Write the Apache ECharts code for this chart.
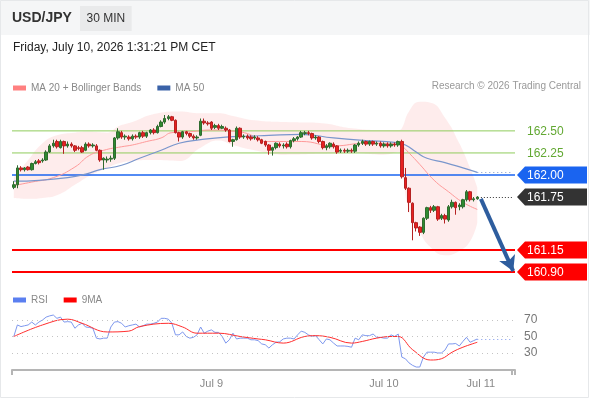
<!DOCTYPE html>
<html>
<head>
<meta charset="utf-8">
<script src="https://cdn.jsdelivr.net/npm/echarts@6/dist/echarts.min.js"></script>
<style>
html, body { margin: 0; padding: 0; background: #fff; }
#chart { width: 590px; height: 400px; }
</style>
</head>
<body>
<div id="chart"></div>
<script>
// 30 min candles, [open, close, low, high]
var candles = [
	[161.86, 161.89, 161.84, 161.93], [161.89, 162.08, 161.85, 162.11], [162.08, 162.06, 162.04, 162.10], [162.06, 162.08, 162.04, 162.09],
	[162.09, 162.06, 162.05, 162.10], [162.06, 162.13, 162.05, 162.14], [162.13, 162.15, 162.12, 162.17], [162.16, 162.14, 162.12, 162.18],
	[162.16, 162.17, 162.14, 162.19], [162.17, 162.26, 162.16, 162.28], [162.26, 162.33, 162.25, 162.35], [162.33, 162.36, 162.31, 162.40],
	[162.38, 162.32, 162.30, 162.40], [162.31, 162.38, 162.30, 162.40], [162.38, 162.33, 162.24, 162.39], [162.33, 162.35, 162.31, 162.38],
	[162.35, 162.33, 162.31, 162.37], [162.33, 162.28, 162.26, 162.34], [162.31, 162.30, 162.28, 162.33], [162.31, 162.26, 162.25, 162.33],
	[162.28, 162.35, 162.27, 162.37], [162.35, 162.33, 162.31, 162.37], [162.33, 162.34, 162.31, 162.36], [162.33, 162.28, 162.27, 162.35],
	[162.28, 162.17, 162.15, 162.29], [162.17, 162.19, 162.06, 162.20], [162.17, 162.18, 162.14, 162.21], [162.18, 162.19, 162.15, 162.22],
	[162.19, 162.42, 162.17, 162.43], [162.42, 162.49, 162.40, 162.53], [162.48, 162.43, 162.41, 162.50], [162.43, 162.44, 162.40, 162.46],
	[162.43, 162.41, 162.39, 162.45], [162.41, 162.44, 162.39, 162.46], [162.44, 162.43, 162.41, 162.46], [162.43, 162.48, 162.41, 162.49],
	[162.48, 162.44, 162.42, 162.50], [162.44, 162.48, 162.42, 162.49], [162.48, 162.51, 162.46, 162.52], [162.51, 162.48, 162.46, 162.53],
	[162.48, 162.55, 162.47, 162.57], [162.55, 162.60, 162.54, 162.62], [162.60, 162.64, 162.58, 162.68], [162.64, 162.66, 162.62, 162.68],
	[162.66, 162.62, 162.61, 162.67], [162.62, 162.48, 162.47, 162.63], [162.48, 162.43, 162.38, 162.49], [162.43, 162.49, 162.41, 162.50],
	[162.49, 162.47, 162.45, 162.50], [162.47, 162.44, 162.42, 162.48], [162.44, 162.42, 162.40, 162.46], [162.42, 162.43, 162.40, 162.45],
	[162.45, 162.61, 162.44, 162.64], [162.61, 162.59, 162.57, 162.64], [162.59, 162.58, 162.56, 162.61], [162.60, 162.53, 162.51, 162.61],
	[162.54, 162.56, 162.52, 162.58], [162.56, 162.53, 162.51, 162.58], [162.53, 162.55, 162.52, 162.57], [162.53, 162.51, 162.49, 162.55],
	[162.51, 162.38, 162.37, 162.52], [162.38, 162.40, 162.32, 162.41], [162.40, 162.53, 162.39, 162.55], [162.53, 162.43, 162.41, 162.54],
	[162.43, 162.44, 162.41, 162.46], [162.44, 162.42, 162.40, 162.46], [162.43, 162.41, 162.39, 162.45], [162.42, 162.43, 162.40, 162.45],
	[162.42, 162.40, 162.38, 162.44], [162.40, 162.36, 162.35, 162.41], [162.38, 162.34, 162.32, 162.39], [162.34, 162.28, 162.23, 162.35],
	[162.28, 162.31, 162.22, 162.32], [162.31, 162.36, 162.29, 162.37], [162.35, 162.33, 162.31, 162.37], [162.33, 162.34, 162.30, 162.36],
	[162.35, 162.32, 162.30, 162.37], [162.32, 162.39, 162.30, 162.40], [162.39, 162.41, 162.37, 162.43], [162.41, 162.43, 162.39, 162.44],
	[162.43, 162.48, 162.42, 162.50], [162.47, 162.48, 162.45, 162.50], [162.48, 162.47, 162.45, 162.50], [162.47, 162.42, 162.40, 162.48],
	[162.42, 162.43, 162.40, 162.45], [162.43, 162.38, 162.36, 162.44], [162.38, 162.31, 162.29, 162.39], [162.31, 162.33, 162.28, 162.35],
	[162.32, 162.36, 162.30, 162.37], [162.35, 162.32, 162.30, 162.37], [162.33, 162.26, 162.24, 162.34], [162.27, 162.28, 162.25, 162.30],
	[162.28, 162.27, 162.25, 162.30], [162.27, 162.28, 162.25, 162.30], [162.28, 162.27, 162.25, 162.30], [162.27, 162.34, 162.25, 162.35],
	[162.34, 162.36, 162.32, 162.38], [162.36, 162.38, 162.34, 162.40], [162.38, 162.35, 162.33, 162.39], [162.35, 162.38, 162.33, 162.39],
	[162.38, 162.35, 162.33, 162.39], [162.35, 162.36, 162.33, 162.38], [162.36, 162.33, 162.31, 162.38], [162.33, 162.35, 162.31, 162.37],
	[162.35, 162.33, 162.31, 162.37], [162.33, 162.35, 162.31, 162.37], [162.35, 162.34, 162.32, 162.37], [162.34, 162.38, 162.32, 162.39],
	[162.38, 161.98, 161.96, 162.40], [161.97, 161.85, 161.83, 162.08], [161.85, 161.69, 161.58, 161.86], [161.68, 161.46, 161.26, 161.69],
	[161.46, 161.40, 161.36, 161.47], [161.41, 161.35, 161.31, 161.42], [161.35, 161.51, 161.33, 161.52], [161.51, 161.63, 161.49, 161.64],
	[161.63, 161.60, 161.57, 161.65], [161.60, 161.64, 161.58, 161.66], [161.64, 161.50, 161.48, 161.65], [161.51, 161.54, 161.49, 161.56],
	[161.54, 161.50, 161.45, 161.56], [161.49, 161.64, 161.47, 161.66], [161.64, 161.69, 161.62, 161.72], [161.69, 161.63, 161.55, 161.70],
	[161.64, 161.66, 161.60, 161.68], [161.64, 161.72, 161.62, 161.73], [161.72, 161.81, 161.70, 161.83], [161.81, 161.72, 161.70, 161.82],
	[161.72, 161.73, 161.70, 161.75], [161.73, 161.75, 161.72, 161.76]
];

// [candle index, value]
var ma20 = [[0, 161.88], [5, 161.92], [11, 161.97], [17, 162.09], [21, 162.22], [25, 162.28], [30, 162.32], [33, 162.34],
	[37, 162.38], [41, 162.42], [44, 162.48], [49, 162.49], [55, 162.51], [60, 162.50], [65, 162.47], [70, 162.38],
	[80, 162.38], [89, 162.33], [98, 162.36], [107, 162.35], [108, 162.33], [110, 162.25], [113, 162.12], [117, 161.94],
	[121, 161.81], [125, 161.69], [129, 161.61]];
var ma50 = [[0, 161.93], [7, 161.94], [15, 161.97], [20, 162.01], [24, 162.06], [30, 162.11], [35, 162.19], [41, 162.28],
	[46, 162.36], [52, 162.40], [59, 162.43], [66, 162.44], [71, 162.45], [80, 162.46], [89, 162.42], [98, 162.39],
	[106, 162.37], [109, 162.34], [112, 162.26], [115, 162.19], [120, 162.14], [125, 162.08], [129, 162.03]];
var bandIdx = [0, 4, 8, 12, 17, 21, 26, 29, 33, 39, 46, 52, 57, 61, 67, 75, 85, 94, 103, 107, 108, 110, 113, 116, 120, 124, 127, 129];
var bandUpper = [161.97, 162.17, 162.36, 162.45, 162.48, 162.49, 162.48, 162.55, 162.60, 162.69, 162.72, 162.70, 162.70, 162.67,
	162.62, 162.60, 162.59, 162.53, 162.51, 162.51, 162.53, 162.72, 162.83, 162.82, 162.65, 162.36, 162.08, 161.86];
var bandLower = [161.74, 161.73, 161.74, 161.77, 161.89, 161.99, 162.08, 162.13, 162.16, 162.17, 162.16, 162.31, 162.39, 162.34,
	162.28, 162.23, 162.24, 162.25, 162.23, 162.26, 162.08, 161.60, 161.35, 161.18, 161.09, 161.14, 161.25, 161.46];

var rsi = [50, 64, 62, 63, 64, 67.5, 64, 67.5, 70, 73.5, 75, 76, 72, 73.5, 67.5, 68, 67.5, 60, 64, 66,
	61.5, 61, 60, 48, 47, 48, 48, 61.5, 67.5, 68, 66, 61.5, 63, 64, 65, 61.5, 63, 65, 65, 66,
	67.5, 72, 72, 71, 66, 52, 52, 55.5, 50, 48, 49, 52, 61.5, 54, 56.5, 58, 55, 55, 50, 42,
	46, 54, 47, 48, 48, 48, 46, 46, 45, 41, 40, 36, 40, 43, 43.5, 47, 48, 48, 47, 52,
	56.5, 55, 52, 50, 51, 46, 41, 47, 46, 42, 38.5, 38.5, 38.5, 38, 37, 48, 46, 52, 51, 51,
	53, 49, 49, 48, 48, 52, 50, 53, 25, 23, 18, 15, 13, 13, 25, 31, 31, 31, 30, 30,
	33.5, 41, 41, 41.5, 38.5, 44, 49, 43, 45, 47];
var rsiMa9 = [[0, 50], [8, 64], [15, 71], [19, 66], [26, 55.5], [32, 56.5], [35, 62], [43, 66], [47, 61.5], [51, 54],
	[57, 54], [63, 50], [68, 47], [70, 46], [75, 42], [81, 50], [84, 51], [88, 49], [94, 42], [97, 44],
	[101, 48], [105, 50], [107, 50], [111, 34], [116, 21.5], [119, 23], [122, 31], [125, 37], [129, 43]];

var levelPrices = [162.50, 162.25, 162.00, 161.75, 161.15, 160.90];
var rsiLevels = [70, 50, 30];
var dateLabels = { 55: 'Jul 9', 103: 'Jul 10', 130: 'Jul 11' };
var slotCount = 140;

var font = '"Liberation Sans", Arial, sans-serif';
var last = candles.length - 1;
var lastClose = candles[last][1];

var categories = [];
for (var i = 0; i < slotCount; i++) categories.push(String(i));

var bandBase = bandIdx.map(function(x, k) { return [x, bandLower[k]]; });
var bandWidth = bandIdx.map(function(x, k) { return [x, +(bandUpper[k] - bandLower[k]).toFixed(2)]; });

var tagLook = [
	{ text: '#62a832' },
	{ text: '#62a832' },
	{ fill: '#1a64f0', text: '#fff' },
	{ fill: '#333333', text: '#fff' },
	{ fill: '#ff0000', text: '#fff' },
	{ fill: '#ff0000', text: '#fff' }
];
var lineLook = [
	{ color: '#8fcc5c', width: 1 },
	{ color: '#8fcc5c', width: 1 },
	{ color: '#1a64f0', width: 1.5 },
	null,
	{ color: '#ff0000', width: 2 },
	{ color: '#ff0000', width: 2 }
];

function renderLevel(params, api) {
	var look = lineLook[params.dataIndex];
	if (!look) return null;
	var cs = params.coordSys;
	var y = api.coord([0, api.value(1)])[1];
	return {
		type: 'line',
		shape: { x1: cs.x, y1: y, x2: cs.x + cs.width, y2: y },
		style: { stroke: look.color, lineWidth: look.width }
	};
}

function renderTag(params, api) {
	var price = api.value(1);
	var look = tagLook[params.dataIndex];
	var y = api.coord([0, price])[1];
	var x = params.coordSys.x + params.coordSys.width + 2;
	var label = {
		type: 'text',
		x: x + 10,
		y: y + 0.5,
		style: { text: price.toFixed(2), fill: look.text, font: '12px ' + font, verticalAlign: 'middle', align: 'left' }
	};
	if (!look.fill) return label;
	return {
		type: 'group',
		children: [{
			type: 'polygon',
			shape: { points: [[x, y], [x + 8, y - 8.5], [x + 70, y - 8.5], [x + 70, y + 8.5], [x + 8, y + 8.5]] },
			style: { fill: look.fill }
		}, label]
	};
}

var chart = echarts.init(document.getElementById('chart'));

var option = {
	backgroundColor: '#fff',
	animation: false,
	textStyle: { fontFamily: font },
	graphic: [{
		type: 'rect', z: 0, shape: { x: 0, y: 0, width: 590, height: 35 }, style: { fill: '#f5f6f7' }
	}, {
		type: 'rect', z: 0, shape: { x: 0.5, y: 0.5, width: 588, height: 397 }, style: { fill: 'none', stroke: '#e6e8ea' }
	}],
	title: [{
		text: 'USD/JPY', left: 12, top: 11, padding: 0, z: 10,
		textStyle: { color: '#333', fontSize: 14, fontWeight: 'bold', fontFamily: font }
	}, {
		text: '30 MIN', left: 80, top: 6, padding: [6.5, 6.5], backgroundColor: '#e9eaeb', z: 10,
		textStyle: { color: '#333', fontSize: 12, fontWeight: 'normal', fontFamily: font }
	}, {
		text: 'Friday, July 10, 2026 1:31:21 PM CET', left: 13, top: 42, padding: 0, z: 10,
		textStyle: { color: '#222', fontSize: 12, fontWeight: 'normal', fontFamily: font }
	}, {
		text: 'Research \u00a9 2026 Trading Central', right: 9, top: 81, padding: 0, z: 10,
		textStyle: { color: '#999', fontSize: 10, fontWeight: 'normal', fontFamily: font }
	}],
	legend: [{
		data: ['MA 20 + Bollinger Bands', 'MA 50'],
		left: 8, top: 78, icon: 'rect', itemWidth: 13, itemHeight: 5, itemGap: 16,
		selectedMode: false,
		textStyle: { color: '#888', fontSize: 10, fontFamily: font }
	}, {
		data: ['RSI', '9MA'],
		left: 8, top: 290, icon: 'rect', itemWidth: 13, itemHeight: 5, itemGap: 16,
		selectedMode: false,
		textStyle: { color: '#888', fontSize: 10, fontFamily: font }
	}],
	grid: [
		{ left: 12, right: 75, top: 100, height: 180 },
		{ left: 12, right: 75, top: 310, height: 60 }
	],
	xAxis: [{
		type: 'category', gridIndex: 0, data: categories, show: false, boundaryGap: true
	}, {
		type: 'category', gridIndex: 1, data: categories, boundaryGap: true,
		axisLine: { lineStyle: { color: '#b5b5b5', width: 2 } },
		axisTick: {
			show: true, length: 5, lineStyle: { color: '#b5b5b5', width: 2 },
			interval: function(idx) { return idx === 0 || idx === slotCount - 1; }
		},
		axisLabel: {
			color: '#888', fontSize: 11, margin: 8,
			interval: function(idx) { return dateLabels[idx] !== undefined; },
			formatter: function(v, idx) { return dateLabels[idx] || ''; }
		},
		splitLine: { show: false }
	}],
	yAxis: [{
		type: 'value', gridIndex: 0, min: 160.81, max: 162.85, show: false, splitLine: { show: false }
	}, {
		type: 'value', gridIndex: 1, min: 9.4, max: 82.1, show: false, splitLine: { show: false }
	}],
	series: [{
		name: 'band base',
		type: 'line', stack: 'bb', smooth: 0.5, symbol: 'none', z: 1,
		lineStyle: { opacity: 0 },
		data: bandBase
	}, {
		name: 'band',
		type: 'line', stack: 'bb', smooth: 0.5, symbol: 'none', z: 1,
		lineStyle: { opacity: 0 },
		areaStyle: { color: 'rgba(250, 120, 120, 0.2)' },
		data: bandWidth
	}, {
		name: 'levels',
		type: 'custom', z: 2, clip: false, silent: true,
		renderItem: renderLevel,
		encode: { x: 0, y: 1 },
		data: levelPrices.map(function(p) { return [0, p]; }),
		markLine: {
			silent: true, symbol: 'none', label: { show: false },
			data: [[
				{ coord: [last + 1, lastClose], lineStyle: { color: '#333', width: 1, type: [1, 2] } },
				{ coord: [slotCount - 1, lastClose] }
			]]
		}
	}, {
		name: 'MA 20 + Bollinger Bands',
		type: 'line', smooth: 0.5, symbol: 'none', z: 3,
		itemStyle: { color: '#ff8080' },
		lineStyle: { color: '#ff9a9a', width: 1 },
		data: ma20
	}, {
		name: 'MA 50',
		type: 'line', smooth: 0.5, symbol: 'none', z: 3,
		itemStyle: { color: '#3a62a8' },
		lineStyle: { color: '#7a96cc', width: 1.2 },
		data: ma50,
		markLine: {
			silent: true, symbol: 'none', label: { show: false },
			data: [[
				{ coord: [last, ma50[ma50.length - 1][1]], lineStyle: { color: '#7a96cc', width: 1.2, type: [1, 3] } },
				{ coord: [slotCount - 1, ma50[ma50.length - 1][1]] }
			]]
		}
	}, {
		name: 'USD/JPY',
		type: 'candlestick', z: 4, barWidth: 3,
		itemStyle: {
			color: '#2f8a2f', color0: '#e82020',
			borderColor: '#2f6b2f', borderColor0: '#b52222', borderWidth: 1
		},
		data: candles
	}, {
		name: 'arrow',
		type: 'line', z: 5, data: [],
		markLine: {
			silent: true, symbol: ['none', 'arrow'], symbolSize: [13, 15], label: { show: false },
			lineStyle: { color: '#2e5d9e', width: 4, type: 'solid' },
			data: [[{ coord: [last + 1, lastClose - 0.02] }, { coord: [slotCount - 1, 160.91] }]]
		}
	}, {
		name: 'tags',
		type: 'custom', z: 6, clip: false, silent: true,
		renderItem: renderTag,
		encode: { x: 0, y: 1 },
		data: levelPrices.map(function(p) { return [0, p]; })
	}, {
		name: 'RSI',
		type: 'line', xAxisIndex: 1, yAxisIndex: 1, symbol: 'none', z: 3,
		itemStyle: { color: '#5b7ff0' },
		lineStyle: { color: '#7e98ee', width: 1 },
		data: rsi,
		markLine: {
			silent: true, symbol: 'none',
			data: rsiLevels.map(function(v) {
				return {
					yAxis: v,
					lineStyle: { color: '#c4c4c4', width: 1, type: [1, 4] },
					label: { show: true, position: 'end', distance: 9, formatter: String(v), color: '#777', fontSize: 12, fontFamily: font }
				};
			}).concat([[
				{ coord: [last, rsi[last]], lineStyle: { color: '#7e98ee', width: 1, type: [1, 3] }, label: { show: false } },
				{ coord: [slotCount - 1, rsi[last]] }
			]])
		}
	}, {
		name: '9MA',
		type: 'line', xAxisIndex: 1, yAxisIndex: 1, symbol: 'none', smooth: 0.4, z: 4,
		itemStyle: { color: '#ff0000' },
		lineStyle: { color: '#ff2e2e', width: 1 },
		data: rsiMa9
	}]
};

chart.setOption(option);

window.onresize = function() {
	chart.resize();
};
</script>
</body>
</html>
